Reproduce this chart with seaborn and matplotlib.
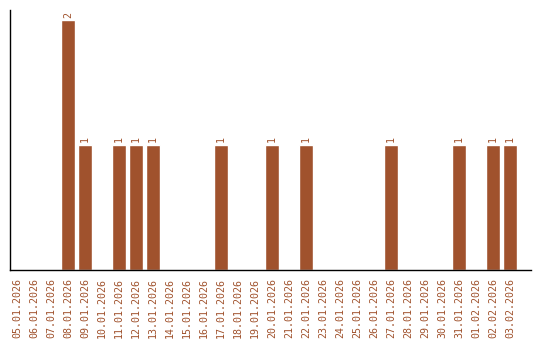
import matplotlib
matplotlib.use("Agg")
import matplotlib.pyplot as plt
import seaborn as sns
import pandas as pd

dates = ["05.01.2026", "06.01.2026", "07.01.2026", "08.01.2026", "09.01.2026",
         "10.01.2026", "11.01.2026", "12.01.2026", "13.01.2026", "14.01.2026",
         "15.01.2026", "16.01.2026", "17.01.2026", "18.01.2026", "19.01.2026",
         "20.01.2026", "21.01.2026", "22.01.2026", "23.01.2026", "24.01.2026",
         "25.01.2026", "26.01.2026", "27.01.2026", "28.01.2026", "29.01.2026",
         "30.01.2026", "31.01.2026", "01.02.2026", "02.02.2026", "03.02.2026"]
counts = [0, 0, 0, 2, 1, 0, 1, 1, 1, 0, 0, 0, 1, 0, 0, 1, 0, 1, 0, 0,
          0, 0, 1, 0, 0, 0, 1, 0, 1, 1]

color = "#A0522D"
df = pd.DataFrame({"date": dates, "count": counts})

sns.set_style("white")
plt.rcParams["font.family"] = ["DejaVu Sans Mono"]

fig = plt.figure(figsize=(5.4, 3.4), dpi=100)
ax = fig.add_axes([10/540, 1 - 270/340, 521/540, 260/340])
sns.barplot(data=df, x="date", y="count", color=color, width=0.82,
            saturation=1, ax=ax)

for i, v in enumerate(counts):
    if v > 0:
        ax.text(i, v + 0.02, str(v), rotation=90, ha="center", va="bottom",
                color=color, fontsize=7.2)

ax.set_xlim(-0.41, 30.24)
ax.set_ylim(0, 2.08)
ax.set_xlabel("")
ax.set_ylabel("")
ax.set_yticks([])
ax.tick_params(axis="x", length=0, pad=6, labelsize=7.2, labelcolor=color,
               labelrotation=90)
for s in ["top", "right"]:
    ax.spines[s].set_visible(False)
for s in ["left", "bottom"]:
    ax.spines[s].set_color("black")
    ax.spines[s].set_linewidth(1)

fig.savefig("out.png", dpi=100)
